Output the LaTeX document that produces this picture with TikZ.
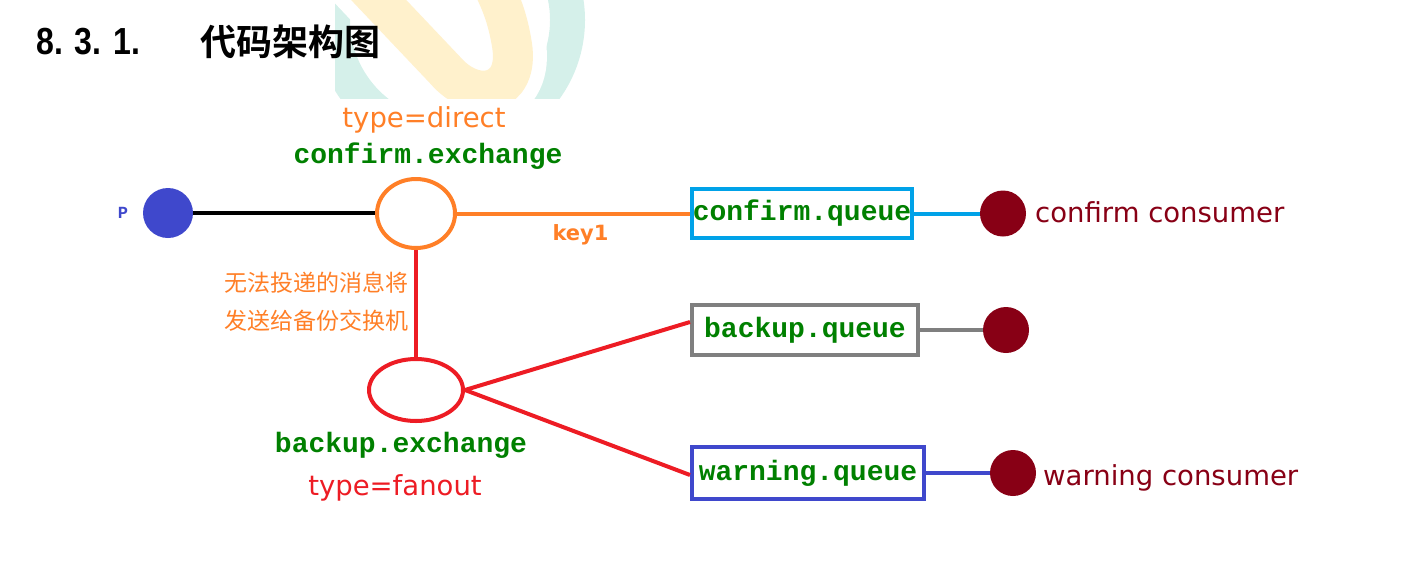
\documentclass[tikz,border=0pt]{standalone}
\usepackage{fontspec}
\setmainfont{DejaVu Sans}
\newfontfamily\cjk{Noto Sans CJK SC}
\newfontfamily\cjkb{Noto Sans CJK SC Bold}
\newfontfamily\monob{Liberation Mono}[BoldFont={Liberation Mono Bold}]
\newfontfamily\numf{Liberation Sans}[BoldFont={Liberation Sans Bold}]
\usetikzlibrary{shapes.geometric}
\definecolor{cOrange}{HTML}{FF7F27}
\definecolor{cRed}{HTML}{ED1C24}
\definecolor{cLBlue}{HTML}{00A2E8}
\definecolor{cGray}{HTML}{7F7F7F}
\definecolor{cBlue}{HTML}{3F48CC}
\definecolor{cDRed}{HTML}{880015}
\definecolor{cGreen}{HTML}{008000}
\definecolor{wmTeal}{HTML}{D5F0EA}
\definecolor{wmYellow}{HTML}{FFF1CC}
\tikzset{
  qbox/.style={draw, line width=4pt, fill=white, inner sep=0pt, text=cGreen,
    font=\monob\bfseries\fontsize{28}{28}\selectfont},
  exch/.style={ellipse, draw, line width=4pt, inner sep=0pt},
  dot/.style={circle, inner sep=0pt, minimum size=46pt, fill=cDRed},
  conn/.style={line width=4pt},
  mono/.style={text=cGreen, font=\monob\bfseries\fontsize{28}{28}\selectfont, inner sep=0pt},
  lbl/.style={font=\fontsize{27.5}{28}\selectfont, inner sep=0pt},
  cnlbl/.style={font=\cjk\fontsize{23}{23}\selectfont, inner sep=0pt, text=cOrange}
}
\begin{document}
\begin{tikzpicture}[x=1pt, y=-1pt]
\useasboundingbox (0,0) rectangle (1412,565);
% watermark
\begin{scope}
  \clip (335,0) rectangle (600,98);
  \draw[wmTeal, line width=35pt] (450,20) circle[radius=117.5pt];
  \draw[white, line width=68pt, line cap=round]
    (355,-25) -- (445,70) .. controls (475,105) and (520,95) .. (512,45)
    .. controls (508,20) and (502,5) .. (495,-10);
  \draw[wmYellow, line width=40pt, line cap=round]
    (355,-25) -- (445,70) .. controls (475,105) and (520,95) .. (512,45)
    .. controls (508,20) and (502,5) .. (495,-10);
\end{scope}
% title
\node[anchor=west, inner sep=0pt] (num) at (36,42)
  {\scalebox{0.85}[1]{\numf\bfseries\fontsize{37.7}{38}\selectfont 8. 3. 1.}};
\node[anchor=west, inner sep=0pt] (title) at (200,42)
  {\cjkb\fontsize{36}{36}\selectfont 代码架构图};
% producer
\node[circle, fill=cBlue, inner sep=0pt, minimum size=50pt] (p) at (168,213) {};
\node[anchor=base, inner sep=0pt, text=cBlue, font=\monob\bfseries\fontsize{17}{17}\selectfont] (plbl) at (123,218) {P};
% exchanges
\node[exch, draw=cOrange, minimum width=78pt, minimum height=69pt] (cx) at (416,213.5) {};
\node[exch, draw=cRed, minimum width=94pt, minimum height=62pt] (bx) at (416,390) {};
\node[lbl, text=cOrange, anchor=base] (cxtype) at (424,127) {type=direct};
\node[mono, anchor=base] (cxname) at (428,163) {confirm.exchange};
\node[mono, anchor=base] (bxname) at (401,452) {backup.exchange};
\node[lbl, text=cRed, anchor=base] (bxtype) at (395,495) {type=fanout};
\node[cnlbl, anchor=east] (cn1) at (409,283) {无法投递的消息将};
\node[cnlbl, anchor=east] (cn2) at (409,321) {发送给备份交换机};
% queues
\node[qbox, draw=cLBlue, minimum width=220pt, minimum height=49pt] (cq) at (802,213.5) {confirm.queue};
\node[qbox, draw=cGray, minimum width=226pt, minimum height=50pt] (bq) at (805,330) {backup.queue};
\node[qbox, draw=cBlue, minimum width=232pt, minimum height=52pt] (wq) at (808,473) {warning.queue};
% consumers
\node[dot] (c1) at (1003,213.5) {};
\node[dot] (c2) at (1006,330) {};
\node[dot] (c3) at (1013,473) {};
\node[lbl, text=cDRed, anchor=base west] (c1lbl) at (1035,222) {confirm consumer};
\node[lbl, text=cDRed, anchor=base west] (c3lbl) at (1043,485) {warning consumer};
% connectors
\draw[conn, black] (p.east) -- (p.east -| cx.west);
\draw[conn, cOrange] (cx.east) -- (cq.west)
  node[pos=0.53, below=9pt, inner sep=0pt, text=cOrange, font=\bfseries\fontsize{21}{21}\selectfont] (k1) {key1};
\draw[conn, cLBlue] (cq.east) -- (c1.west);
\draw[conn, cGray] (bq.east) -- (c2.west);
\draw[conn, cBlue] (wq.east) -- (c3.west);
\draw[conn, cRed] (cx.south) -- (bx.north);
\draw[conn, cRed] (bx.east) -- ([yshift=8pt]bq.west);
\draw[conn, cRed] (bx.east) -- ([yshift=-2pt]wq.west);
\end{tikzpicture}
\end{document}
